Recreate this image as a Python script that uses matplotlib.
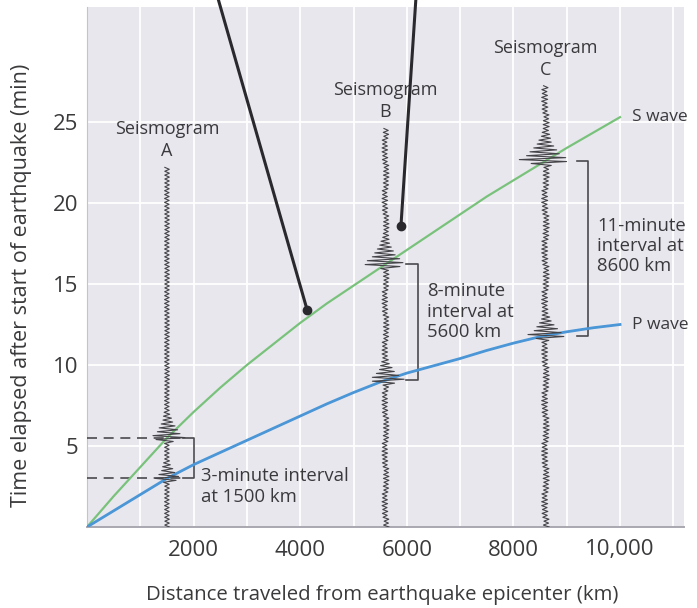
import numpy as np
import matplotlib.pyplot as plt

plt.rcParams['font.family'] = ['Open Sans', 'DejaVu Sans']

# travel-time curves (distance in km, time in min), read every 500 km
distance_km = [0, 500, 1000, 1500, 2000, 2500, 3000, 3500, 4000, 4500, 5000,
               5500, 6000, 6500, 7000, 7500, 8000, 8500, 9000, 9500, 10000]
s_wave_min = [0, 1.9, 3.7, 5.5, 7.1, 8.6, 10.0, 11.3, 12.6, 13.8, 14.9,
              16.0, 17.1, 18.2, 19.3, 20.4, 21.4, 22.4, 23.4, 24.35, 25.3]
p_wave_min = [0, 1.0, 2.0, 3.0, 3.85, 4.6, 5.35, 6.1, 6.85, 7.6, 8.3,
              8.95, 9.5, 9.95, 10.4, 10.9, 11.35, 11.75, 12.05, 12.3, 12.5]

# seismograph stations
station_names = ['A', 'B', 'C']
station_km = [1500, 5600, 8600]
trace_top_min = [22.3, 24.7, 27.3]
base_amp_km = [45, 65, 70]
p_burst_km = [260, 380, 420]
s_burst_km = [360, 460, 560]
# irregular stroke lengths of the hand-drawn traces
stroke_mod = [1.0, 0.55, 0.85, 0.4, 0.95, 0.7, 0.5, 0.9, 0.65, 0.8, 0.45, 1.0, 0.6]
interval_text = ['3-minute interval\nat 1500 km',
                 '8-minute\ninterval at\n5600 km',
                 '11-minute\ninterval at\n8600 km']
interval_text_pos = [(2130, 2.5), (6380, 13.3), (9570, 17.35)]
bracket_x = [(1800, 2000), (5990, 6210), (9200, 9400)]

# pointer lines (start above the plot, end on a dot)
pointer_start = [(2460, 32.6), (6170, 32.6)]
pointer_end = [(4130, 13.4), (5890, 18.6)]

x_ticks = [2000, 4000, 6000, 8000, 10000]
x_tick_labels = ['2000', '4000', '6000', '8000', '10,000']
y_ticks = [5, 10, 15, 20, 25]

text_col = '#3a3a3c'
line_col = '#4a4a4e'
s_col = '#79c27b'
p_col = '#4a96d6'

fig = plt.figure(figsize=(6.97, 6.08), dpi=100)
ax = fig.add_axes([87 / 697, 1 - 527 / 608, (684 - 87) / 697, (527 - 7) / 608])
ax.set_facecolor('#e9e7ee')
ax.set_xlim(0, 11200)
ax.set_ylim(0, 32.1)

for gx in range(1000, 11001, 1000):
    ax.axvline(gx, color='white', lw=1.3, zorder=0)
for gy in range(5, 26, 5):
    ax.axhline(gy, color='white', lw=1.3, zorder=0)

for sp in ['top', 'right']:
    ax.spines[sp].set_visible(False)
ax.spines['left'].set_color('#c4c2ca')
ax.spines['bottom'].set_color('#a9a7b0')
ax.spines['bottom'].set_linewidth(1.4)

ax.set_xticks(x_ticks)
ax.set_xticklabels(x_tick_labels)
ax.set_yticks(y_ticks)
ax.tick_params(length=0, labelsize=16, colors=text_col)
ax.tick_params(axis='x', pad=9)
ax.tick_params(axis='y', pad=6.5)

# travel-time curves
ax.plot(distance_km, s_wave_min, color=s_col, lw=1.6, zorder=4)
ax.plot(distance_km, p_wave_min, color=p_col, lw=2.0, zorder=4)
ax.text(10220, s_wave_min[-1], 'S wave', fontsize=12.5, color=text_col, va='center')
ax.text(10220, p_wave_min[-1], 'P wave', fontsize=12.5, color=text_col, va='center')

# seismograms
arrivals = []
for i in range(3):
    x0 = station_km[i]
    tp = np.interp(x0, distance_km, p_wave_min)
    ts = np.interp(x0, distance_km, s_wave_min)
    arrivals.append((tp, ts))
    t = np.arange(0, trace_top_min[i], 0.12)
    mod = np.resize(np.array(stroke_mod), len(t))
    if i == 0:
        env = base_amp_km[i] * (0.8 + 0.2 * mod)
    else:
        env = base_amp_km[i] * mod
    for ta, amp, dec in [(tp, p_burst_km[i], 0.7), (ts, s_burst_km[i], 0.85)]:
        burst = amp * np.exp(-np.clip(t - ta, 0, None) / dec)
        ramp = np.clip(1 - (ta - t) / 0.35, 0, 1)
        env = np.maximum(env, burst * ramp * (0.6 + 0.4 * mod))
    sign = np.where(np.arange(len(t)) % 2 == 0, 1, -1)
    ax.plot(x0 + sign * env, t, color='#444448', lw=0.8, zorder=5)
    ax.text(x0, trace_top_min[i] + 0.35, 'Seismogram\n' + station_names[i],
            ha='center', va='bottom', fontsize=13, color=text_col,
            linespacing=1.3, zorder=6)

# brackets; the one at A has dashed guides to the axis
for i in range(3):
    tp, ts = arrivals[i]
    bx0, bx1 = bracket_x[i]
    ax.plot([bx0, bx1, bx1, bx0], [ts, ts, tp, tp], color=line_col, lw=1.2, zorder=3)
    if i == 0:
        for yy in [tp, ts]:
            ax.plot([0, bx0], [yy, yy], color=line_col, lw=1.2, ls=(0, (6, 4)), zorder=3)
    ax.text(interval_text_pos[i][0], interval_text_pos[i][1], interval_text[i],
            fontsize=13.3, color=text_col, va='center', linespacing=1.15)

# pointer lines
for (x1, y1), (x2, y2) in zip(pointer_start, pointer_end):
    ax.plot([x1, x2], [y1, y2], color='#2a2a2e', lw=2.2, clip_on=False, zorder=7)
    ax.plot(x2, y2, 'o', color='#2a2a2e', ms=6, zorder=7)

fig.text(22 / 697, 1 - 285 / 608, 'Time elapsed after start of earthquake (min)',
         rotation=90, ha='center', va='center', fontsize=15.5, color=text_col)
fig.text(382 / 697, 1 - 595 / 608, 'Distance traveled from earthquake epicenter (km)',
         ha='center', va='center', fontsize=14.7, color=text_col)

fig.savefig('out.png', dpi=100)
